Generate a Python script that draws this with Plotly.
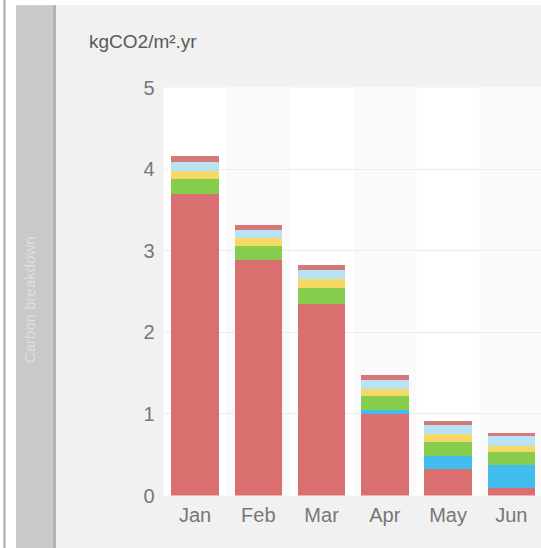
import plotly.graph_objects as go

# ── data (kgCO2/m².yr) ────────────────────────────────────────────────────────
months = ["Jan", "Feb", "Mar", "Apr", "May", "Jun"]
seg_main   = [3.69, 2.89, 2.35, 1.00, 0.33, 0.09]
seg_blue   = [0.00, 0.00, 0.00, 0.05, 0.15, 0.28]
seg_green  = [0.19, 0.17, 0.19, 0.17, 0.18, 0.17]
seg_yellow = [0.10, 0.10, 0.11, 0.09, 0.09, 0.07]
seg_lblue  = [0.11, 0.10, 0.11, 0.11, 0.11, 0.12]
seg_top    = [0.07, 0.06, 0.07, 0.06, 0.06, 0.04]
y_ticks    = [0, 1, 2, 3, 4, 5]

# ── palette ───────────────────────────────────────────────────────────────────
RED    = "#d96f6f"
BLUE   = "#41bdf0"
GREEN  = "#86cc4d"
YELLOW = "#f5d866"
LBLUE  = "#b8e3f5"
TOPRED = "#d77878"
TEXT   = "#777777"
PANEL  = "#f1f1f1"

W, H = 541, 572
SY = 0.959      # vertical squeeze seen in the captured page


def px(x):
    return x / W


def py(y):
    # y given in target-picture pixels
    return 1 - ((y + 0.3) / SY) / H


series = [
    (seg_main, RED), (seg_blue, BLUE), (seg_green, GREEN),
    (seg_yellow, YELLOW), (seg_lblue, LBLUE), (seg_top, TOPRED),
]

fig = go.Figure()
for vals, col in series:
    fig.add_trace(go.Bar(x=months, y=vals, marker=dict(color=col, line=dict(width=0)),
                         showlegend=False))


def box(x0, x1, y0, y1, color):
    return dict(type="rect", xref="paper", yref="paper", x0=x0, x1=x1, y0=y0, y1=y1,
                fillcolor=color, line_width=0, layer="below")


shapes = [
    # white page edge (left strip + top strip), frame line, grey side tab
    box(0, px(16), 0, 1, "#ffffff"),
    box(0, 1, py(6), 1, "#ffffff"),
    box(px(3.5), px(5.5), 0, 1, "#a8a8a8"),
    box(px(16), px(56), 0, py(6), "#c9c9c9"),
    box(px(53), px(56), 0, py(6), "#b2b2b2"),
]
# faint alternating column bands
for i in range(len(months)):
    if i % 2 == 1:
        shapes.append(dict(type="rect", xref="x", yref="paper",
                           x0=i - 0.5, x1=i + 0.5, y0=py(495), y1=py(88),
                           fillcolor="#fafafa", line_width=0, layer="below"))

fig.update_layout(
    width=W, height=H,
    margin=dict(l=0, r=0, t=0, b=0),
    paper_bgcolor=PANEL,
    plot_bgcolor="#ffffff",
    barmode="stack",
    bargap=0.25,
    font=dict(family="Liberation Sans, Arial, sans-serif", color=TEXT, size=20),
    xaxis=dict(domain=[px(163.5), 1], range=[-0.5, 5.47], showgrid=False,
               showline=False, zeroline=False, ticks="", ticklabelstandoff=5,
               tickfont=dict(size=20, color=TEXT), fixedrange=True),
    yaxis=dict(domain=[py(495), py(88)], range=[0, 5], tickvals=y_ticks,
               showgrid=True, gridcolor="#ececec", gridwidth=1, zeroline=False,
               showline=False, ticks="", ticklabelstandoff=8,
               tickfont=dict(size=20, color=TEXT), fixedrange=True),
    shapes=shapes,
    annotations=[
        dict(text="kgCO2/m².yr", xref="paper", yref="paper", x=px(87), y=py(42),
             xanchor="left", yanchor="middle", showarrow=False,
             font=dict(size=19, color="#5a5a5a")),
        dict(text="Carbon breakdown", xref="paper", yref="paper", x=px(29), y=py(300),
             xanchor="center", yanchor="middle", textangle=-90, showarrow=False,
             font=dict(size=15, color="#dedede")),
    ],
)

# pin the figure to the window, nudged up past the blank strip at the top
fig.write_html(
    "out.html", config=dict(displayModeBar=False),
    post_script=("var d=document.getElementById('{plot_id}');"
                 "d.style.position='fixed';d.style.top='-12px';d.style.left='0';"
                 "document.body.style.margin='0';"
                 "document.body.style.overflow='hidden';"
                 "document.documentElement.style.overflow='hidden';"),
)
